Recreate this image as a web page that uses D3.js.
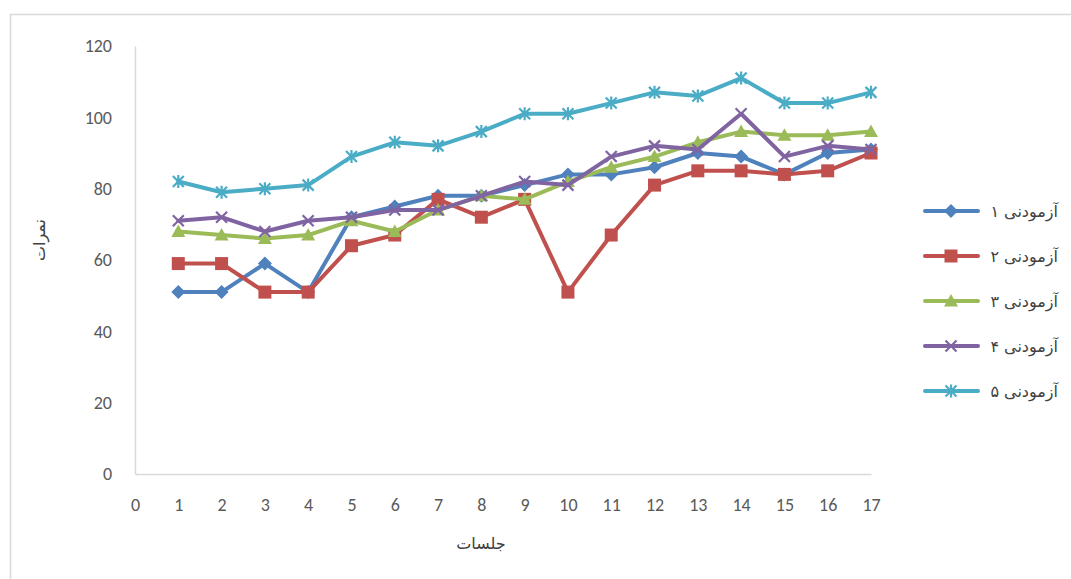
<!DOCTYPE html>
<html><head><meta charset="utf-8">
<script src="https://cdn.jsdelivr.net/npm/d3@7"></script>
<style>body{margin:0;background:#fff}svg{display:block}</style>
</head><body>
<svg id="c" width="1071" height="579"></svg>
<script>
const sessions = [1,2,3,4,5,6,7,8,9,10,11,12,13,14,15,16,17];
const s1 = [51,51,59,51,72,75,78,78,81,84,84,86,90,89,84,90,91];
const s2 = [59,59,51,51,64,67,77,72,77,51,67,81,85,85,84,85,90];
const s3 = [68,67,66,67,71,68,74,78,77,82,86,89,93,96,95,95,96];
const s4 = [71,72,68,71,72,74,74,78,82,81,89,92,91,101,89,92,91];
const s5 = [82,79,80,81,89,93,92,96,101,101,104,107,106,111,104,104,107];
const seriesNames = ["آزمودنی ۱","آزمودنی ۲","آزمودنی ۳","آزمودنی ۴","آزمودنی ۵"];
const colors = ["#4F81BD","#C0504D","#9BBB59","#8064A2","#4BACC6"];
const markers = ["diamond","square","triangle","x","star"];
const yTicks = [0,20,40,60,80,100,120];
const xTicks = [0,1,2,3,4,5,6,7,8,9,10,11,12,13,14,15,16,17];
const xTitle = "جلسات";
const yTitle = "نمرات";

const allSeries = [s1,s2,s3,s4,s5];
const svg = d3.select("#c");
const font = "Calibri, Carlito, Lato, 'Open Sans', sans-serif";

svg.append("rect").attr("x",10.5).attr("y",14.5).attr("width",1080).attr("height",600)
  .attr("fill","none").attr("stroke","#d9d9d9").attr("stroke-width",1.5);

const x = d3.scaleLinear().domain([0,17]).range([135,871]);
const y = d3.scaleLinear().domain([0,120]).range([474,46]);

const gx = svg.append("g").attr("transform","translate(0,474)")
  .call(d3.axisBottom(x).tickValues(xTicks).tickSize(0).tickPadding(24).tickFormat(d3.format("d")));
gx.select(".domain").attr("stroke","#d9d9d9").attr("stroke-width",1.5);
gx.selectAll("text").attr("font-family",font).attr("font-size",18).attr("fill","#595959");

const gy = svg.append("g").attr("transform","translate(135,0)")
  .call(d3.axisLeft(y).tickValues(yTicks).tickSize(0).tickPadding(23).tickFormat(d3.format("d")));
gy.select(".domain").attr("stroke","#d9d9d9").attr("stroke-width",1.5);
gy.selectAll("text").attr("font-family",font).attr("font-size",18).attr("fill","#595959");

svg.append("text").attr("x",481).attr("y",549).attr("text-anchor","middle")
  .attr("font-family","'DejaVu Sans', sans-serif").attr("font-size",16).attr("fill","#404040").text(xTitle);
svg.append("text").attr("transform","translate(45,240) rotate(-90)").attr("text-anchor","middle")
  .attr("font-family","'DejaVu Sans', sans-serif").attr("font-size",16).attr("fill","#404040").text(yTitle);

function drawMarker(g, type, color, cx, cy){
  const s = g.append("g").attr("transform",`translate(${cx},${cy})`);
  if(type==="diamond"){
    s.append("path").attr("d","M0,-7L7,0L0,7L-7,0Z").attr("fill",color);
  } else if(type==="square"){
    s.append("rect").attr("x",-6.5).attr("y",-6.5).attr("width",13).attr("height",13).attr("fill",color);
  } else if(type==="triangle"){
    s.append("path").attr("d","M0,-7L7,5.5L-7,5.5Z").attr("fill",color);
  } else if(type==="x"){
    s.append("path").attr("d","M-5.5,-5.5L5.5,5.5M-5.5,5.5L5.5,-5.5").attr("stroke",color).attr("stroke-width",2.2);
  } else if(type==="star"){
    s.append("path").attr("d","M-5.5,-5.5L5.5,5.5M-5.5,5.5L5.5,-5.5M0,-6.5L0,6.5").attr("stroke",color).attr("stroke-width",2.2);
  }
}

const line = d3.line().x((d,i)=>x(sessions[i])).y(d=>y(d));
allSeries.forEach((data,k)=>{
  const g = svg.append("g");
  g.append("path").datum(data).attr("d",line).attr("fill","none")
    .attr("stroke",colors[k]).attr("stroke-width",4).attr("stroke-linejoin","round").attr("stroke-linecap","round");
  data.forEach((v,i)=>drawMarker(g, markers[k], colors[k], x(sessions[i]), y(v)));
});

seriesNames.forEach((name,k)=>{
  const ly = 211 + k*45;
  const g = svg.append("g");
  g.append("line").attr("x1",925).attr("x2",978).attr("y1",ly).attr("y2",ly)
    .attr("stroke",colors[k]).attr("stroke-width",4).attr("stroke-linecap","round");
  drawMarker(g, markers[k], colors[k], 951, ly);
  g.append("text").attr("x",1058).attr("y",ly+6).attr("text-anchor","end")
    .attr("font-family","'DejaVu Sans', sans-serif").attr("font-size",16).attr("fill","#404040")
    .text(name);
});
</script>
</body></html>
